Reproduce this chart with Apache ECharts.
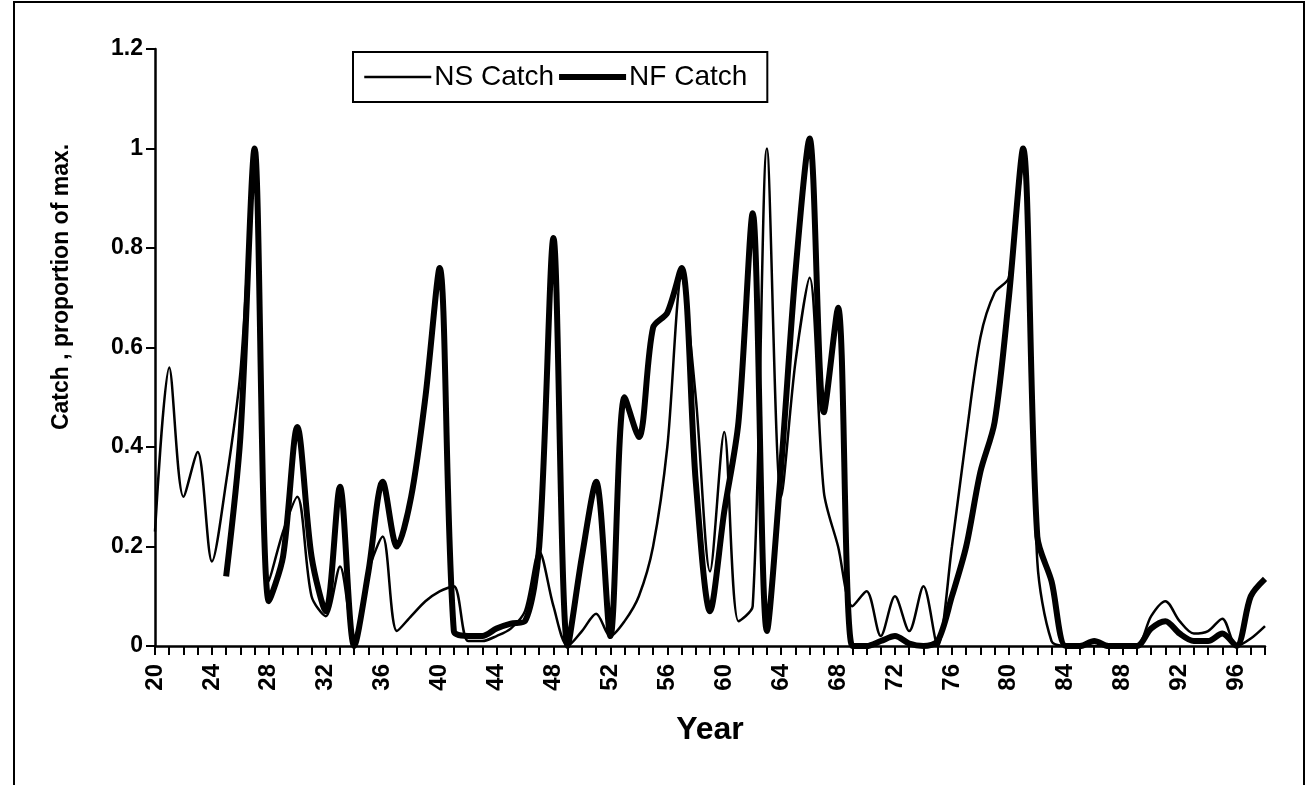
<!DOCTYPE html>
<html>
<head>
<meta charset="utf-8">
<script src="https://cdn.jsdelivr.net/npm/echarts@6/dist/echarts.min.js"></script>
<style>
html,body{margin:0;padding:0;background:#fff;}
#chart{width:1308px;height:785px;}
</style>
</head>
<body>
<div id="chart"></div>
<script>
const years = [1920,1921,1922,1923,1924,1925,1926,1927,1928,1929,
  1930,1931,1932,1933,1934,1935,1936,1937,1938,1939,
  1940,1941,1942,1943,1944,1945,1946,1947,1948,1949,
  1950,1951,1952,1953,1954,1955,1956,1957,1958,1959,
  1960,1961,1962,1963,1964,1965,1966,1967,1968,1969,
  1970,1971,1972,1973,1974,1975,1976,1977,1978,1979,
  1980,1981,1982,1983,1984,1985,1986,1987,1988,1989,
  1990,1991,1992,1993,1994,1995,1996,1997,1998];

const nsCatch = [0.23,0.56,0.30,0.39,0.17,0.33,0.55,0.97,0.13,0.23,
  0.30,0.10,0.06,0.16,0.01,0.15,0.22,0.03,0.06,0.09,
  0.11,0.12,0.01,0.01,0.02,0.035,0.07,0.19,0.08,0.00,
  0.03,0.065,0.02,0.05,0.10,0.20,0.40,0.74,0.50,0.15,
  0.43,0.05,0.08,1.00,0.30,0.57,0.74,0.31,0.20,0.08,
  0.11,0.02,0.10,0.03,0.12,0.00,0.20,0.42,0.62,0.71,
  0.74,0.98,0.17,0.01,0.00,0.00,0.00,0.00,0.00,0.00,
  0.06,0.09,0.05,0.025,0.03,0.055,0.00,0.015,0.04];

const nfCatch = [null,null,null,null,null,0.14,0.42,1.00,0.09,0.18,
  0.44,0.18,0.07,0.32,0.00,0.15,0.33,0.20,0.30,0.50,
  0.76,0.03,0.02,0.02,0.035,0.045,0.05,0.20,0.82,0.00,
  0.18,0.33,0.02,0.50,0.42,0.64,0.67,0.76,0.33,0.07,
  0.27,0.45,0.87,0.03,0.36,0.75,1.02,0.47,0.68,0.00,
  0.00,0.01,0.02,0.005,0.00,0.01,0.10,0.20,0.35,0.45,
  0.70,1.00,0.22,0.13,0.00,0.00,0.01,0.00,0.00,0.00,
  0.035,0.05,0.025,0.01,0.01,0.025,0.00,0.10,0.135];

const yTicks = [0,0.2,0.4,0.6,0.8,1,1.2];

const FONT = '"Liberation Sans", Arial, sans-serif';
const NS_W = 2.5, NF_W = 6;
const chart = echarts.init(document.getElementById('chart'));
chart.setOption({
  animation: false,
  backgroundColor: '#fff',
  grid: {left: 155, right: 43, top: 49, bottom: 139},
  legend: {
    left: 353, top: 52,
    padding: [11, 20, 11, 10],
    itemGap: 2,
    itemWidth: 67,
    itemHeight: 14,
    borderColor: '#000',
    borderWidth: 2,
    backgroundColor: '#fff',
    itemStyle: {opacity: 0},
    textStyle: {fontFamily: FONT, fontSize: 28, color: '#000', padding: [0,0,0,-2]},
    data: [
      {name: 'NS Catch', lineStyle: {width: NS_W, color: '#000'}},
      {name: 'NF Catch', lineStyle: {width: NF_W, color: '#000'}}
    ]
  },
  xAxis: {
    type: 'category',
    data: years,
    boundaryGap: false,
    name: 'Year',
    nameLocation: 'middle',
    nameGap: 68,
    nameTextStyle: {fontFamily: FONT, fontSize: 32, fontWeight: 'bold', color: '#000'},
    axisLine: {lineStyle: {color: '#000', width: 2.5}},
    axisTick: {interval: 0, length: 9, lineStyle: {color: '#000', width: 2}},
    axisLabel: {
      interval: 3, rotate: 90, margin: 18,
      fontFamily: FONT, fontSize: 24, fontWeight: 'bold', color: '#000',
      formatter: v => String(v).slice(2)
    },
    splitLine: {show: false}
  },
  yAxis: {
    type: 'value',
    min: yTicks[0], max: yTicks[yTicks.length - 1], interval: 0.2,
    axisLine: {show: true, lineStyle: {color: '#000', width: 2.5}},
    axisTick: {show: true, length: 9, lineStyle: {color: '#000', width: 2}},
    axisLabel: {margin: 12, fontFamily: FONT, fontSize: 23, fontWeight: 'bold', color: '#000'},
    splitLine: {show: false}
  },
  graphic: [
    {type: 'rect', shape: {x: 14, y: 2, width: 1290, height: 820}, style: {fill: 'none', stroke: '#000', lineWidth: 2}, silent: true},
    {type: 'text', x: 62, y: 287, rotation: Math.PI / 2,
     style: {text: 'Catch , proportion of max.', fontFamily: FONT, fontSize: 23, fontWeight: 'bold', fill: '#000', align: 'center', verticalAlign: 'middle'}}
  ],
  series: [
    {name: 'NS Catch', type: 'line', data: nsCatch, smooth: 0.3, symbol: 'none',
     lineStyle: {color: '#000', width: NS_W}, itemStyle: {color: '#000'}},
    {name: 'NF Catch', type: 'line', data: nfCatch, smooth: 0.3, symbol: 'none',
     lineStyle: {color: '#000', width: NF_W}, itemStyle: {color: '#000'}}
  ]
});
</script>
</body>
</html>
